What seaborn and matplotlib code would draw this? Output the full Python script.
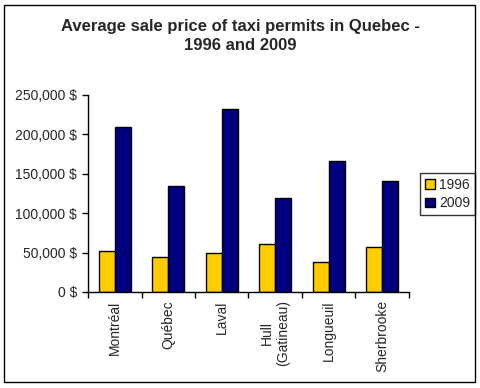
import pandas as pd
import matplotlib.pyplot as plt
import seaborn as sns
from matplotlib.patches import Rectangle
from matplotlib.ticker import FuncFormatter, FixedLocator

cities = ["Montréal", "Québec", "Laval", "Hull\n(Gatineau)", "Longueuil", "Sherbrooke"]
price_1996 = [52000, 44000, 49000, 60500, 37500, 56500]
price_2009 = [210000, 134000, 232000, 119000, 166000, 140500]
years = ["1996", "2009"]

df = pd.DataFrame({
    "City": cities * 2,
    "Year": [years[0]] * len(cities) + [years[1]] * len(cities),
    "Price": price_1996 + price_2009,
})

sns.set_style("white")
plt.rcParams["font.family"] = ["Liberation Sans", "DejaVu Sans"]

fig = plt.figure(figsize=(4.81, 3.88), dpi=100)
ax = fig.add_axes([88 / 481, 1 - 292 / 388, (409 - 88) / 481, (292 - 95) / 388])

sns.barplot(data=df, x="City", y="Price", hue="Year", ax=ax,
            palette=["#FFCC00", "#000080"], width=0.6,
            edgecolor="black", linewidth=1, saturation=1)

ax.set_ylim(0, 250000)
ax.set_xlim(-0.5, len(cities) - 0.5)
ax.set_yticks(range(0, 250001, 50000))
ax.yaxis.set_major_formatter(FuncFormatter(lambda v, p: f"{int(v):,} $"))
ax.set_xlabel("")
ax.set_ylabel("")

# tick marks between the groups
ax.xaxis.set_minor_locator(FixedLocator([i - 0.5 for i in range(len(cities) + 1)]))
ax.tick_params(axis="x", which="major", length=0, pad=6)
ax.tick_params(axis="x", which="minor", length=4, width=1, color="black", bottom=True)
ax.tick_params(axis="y", length=4, width=1, color="black", left=True, labelsize=10, pad=4)
for lbl in ax.get_xticklabels():
    lbl.set_rotation(90)
    lbl.set_fontsize(10)
    lbl.set_multialignment("center")
    lbl.set_va("top")
    lbl.set_ha("center")

sns.despine(ax=ax)
for s in ["left", "bottom"]:
    ax.spines[s].set_color("black")
    ax.spines[s].set_linewidth(1)

leg = ax.legend(loc="center left", bbox_to_anchor=(420 / 481, 1 - 194 / 388),
                bbox_transform=fig.transFigure, frameon=True, fancybox=False,
                fontsize=10, handlelength=0.7, handleheight=0.7,
                handletextpad=0.3, borderpad=0.35, labelspacing=0.35,
                borderaxespad=0, title=None)
leg.get_frame().set_edgecolor("black")
leg.get_frame().set_linewidth(1)

fig.text(0.5, 1 - 36 / 388, "Average sale price of taxi permits in Quebec -\n1996 and 2009",
         ha="center", va="center", fontsize=12, fontweight="bold", linespacing=1.3)

fig.patches.append(Rectangle((4 / 481, 1 - 382 / 388), 471 / 481, 377 / 388,
                             transform=fig.transFigure, fill=False,
                             edgecolor="black", linewidth=1))

plt.savefig("out.png", dpi=100)
